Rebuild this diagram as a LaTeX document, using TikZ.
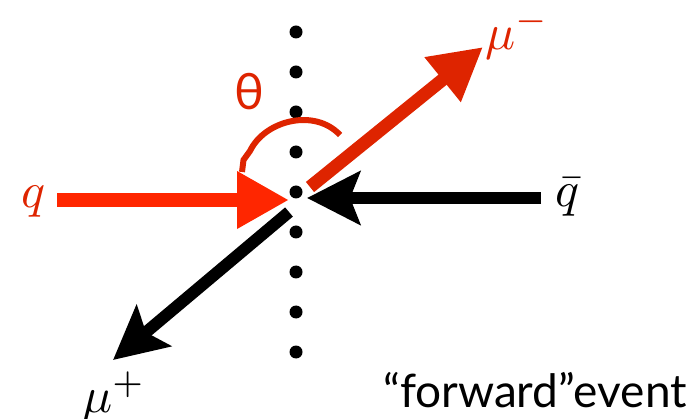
\documentclass[tikz,border=0pt]{standalone}
\usepackage{graphicx}
\usepackage{fontspec}
\setmainfont{Lato}
\usetikzlibrary{arrows.meta}
\definecolor{qred}{RGB}{255,38,0}
\definecolor{mred}{RGB}{222,36,0}
\newcommand{\bigmath}[1]{\scalebox{5}{$#1$}}
\begin{document}
\begin{tikzpicture}[x=1pt,y=-1pt,
  redarrow/.style={line width=14pt,-{Triangle[length=52pt,width=54pt]}},
  blackarrow/.style={line width=12pt,-{Stealth[length=53pt,width=53pt,inset=10pt]}},
  mathlab/.style={inner sep=0pt},
  dotnode/.style={circle,fill=black,minimum size=13pt,inner sep=0pt}]
\useasboundingbox (0,0) rectangle (690,419);
% dotted axis
\foreach \i in {0,...,8}{
  \node[dotnode] (d\i) at (296,{32+40*\i}) {};
}
% arrow end points
\coordinate (qs) at (57,200);
\coordinate (qe) at (289,200);
\coordinate (qbs) at (541,198);
\coordinate (qbe) at (307,198);
\coordinate (mms) at (310,187);
\coordinate (mme) at (483,47);
\coordinate (mps) at (289,212);
\coordinate (mpe) at (113,360);
\draw[redarrow,qred] (qs) -- (qe);
\draw[blackarrow,black] (qbs) -- (qbe);
\draw[redarrow,mred,line width=13pt] (mms) -- (mme);
\draw[blackarrow,black] (mps) -- (mpe);
% theta arc
\coordinate (ta) at (242,172);
\coordinate (tb) at (340,135);
\draw[mred,line width=6pt] (ta) -- (243.5,160) -- (250,151) .. controls (265,120) and (315,108) .. (tb);
% labels
\node[mathlab,text=mred] (q) at (33.5,201.5) {\bigmath{q}};
\node[mathlab] (qb) at (568,197) {\bigmath{\bar{q}}};
\node[mathlab,text=mred] (mm) at (517,34) {\bigmath{\mu^{-}}};
\node[mathlab] (mp) at (114,397) {\bigmath{\mu^{+}}};
\node[inner sep=0pt,text=mred,font=\fontsize{50}{50}\selectfont] (th) at (249,92) {θ};
\node[inner sep=0pt,anchor=base,font=\fontsize{46}{46}\selectfont] (ev) at (535,407) {“forward”event};
\end{tikzpicture}
\end{document}
